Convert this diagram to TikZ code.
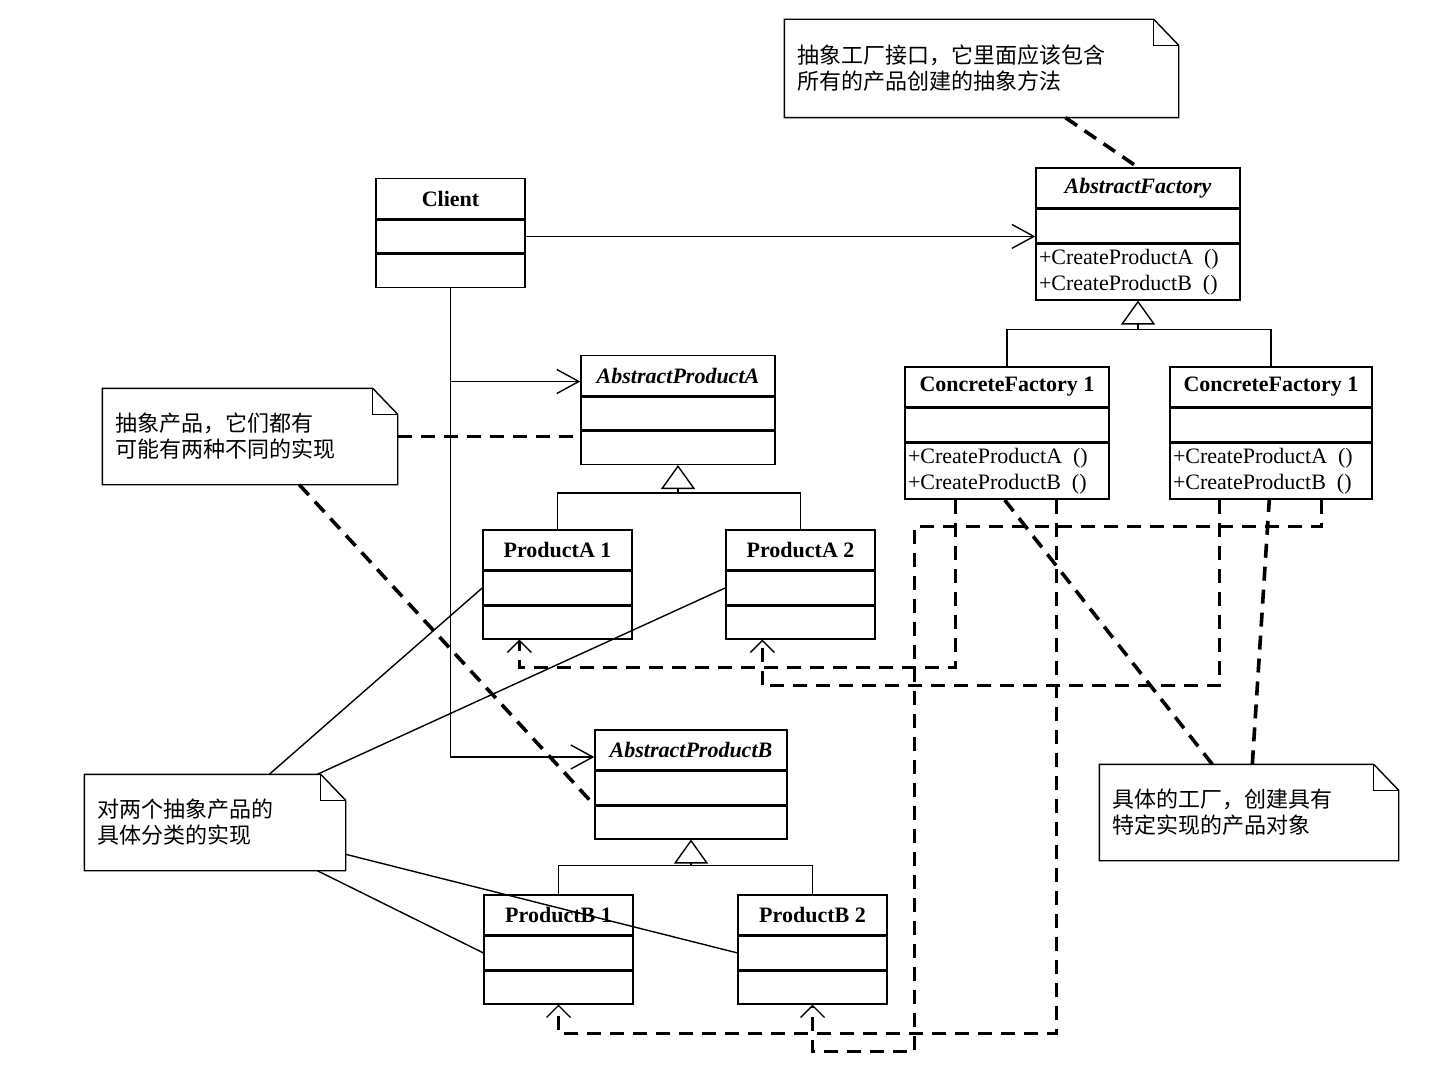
\documentclass[tikz,border=0pt]{standalone}
\usepackage{fontspec}
\setmainfont{Liberation Serif}
\newfontfamily\cjk{Noto Sans CJK SC}
\usetikzlibrary{arrows.meta,positioning}

\begin{document}
\begin{tikzpicture}[
x=0.5pt,y=-0.5pt,
line width=0.7pt,
font=\fontsize{11}{13}\selectfont,
head/.style={draw,minimum height=20pt,inner sep=0pt,font=\fontsize{11}{13}\selectfont\bfseries},
abshead/.style={head,font=\fontsize{11}{13}\selectfont\bfseries\itshape},
part/.style={draw,minimum height=16.5pt,inner sep=0pt},
ops/.style={draw,minimum height=28pt,inner xsep=1.5pt,inner ysep=0pt,align=left},
note/.style={minimum height=47.5pt,inner xsep=6pt,align=left,font=\fontsize{11}{13}\selectfont\cjk},
assoc/.style={-{Straight Barb[length=11pt,width=12pt]}},
inh/.style={-{Triangle[open,length=12pt,width=17pt]}},
dep/.style={line width=1.8pt,dash pattern=on 7pt off 4.5pt,-{Straight Barb[length=6pt,width=12pt,line width=0.7pt]}},
noteline/.style={line width=1.8pt,dash pattern=on 7pt off 4.5pt}
]
\useasboundingbox (0,0) rectangle (1429,1086);

% classes
\node[head,minimum width=74.5pt] (client) at (450.5,198.5) {Client};
\node[part,minimum width=74.5pt,below=0pt of client] (client-a) {};
\node[part,minimum width=74.5pt,below=0pt of client-a] (client-o) {};

\node[abshead,minimum width=102pt] (af) at (1138,188) {AbstractFactory};
\node[part,minimum width=102pt,below=0pt of af] (af-a) {};
\node[ops,text width=99pt,below=0pt of af-a] (af-o) {+CreateProductA\enspace()\\+CreateProductB\enspace()};

\node[head,minimum width=102pt] (cf1) at (1007,387) {ConcreteFactory 1};
\node[part,minimum width=102pt,below=0pt of cf1] (cf1-a) {};
\node[ops,text width=99pt,below=0pt of cf1-a] (cf1-o) {+CreateProductA\enspace()\\+CreateProductB\enspace()};

\node[head,minimum width=101pt] (cf2) at (1271,387) {ConcreteFactory 1};
\node[part,minimum width=101pt,below=0pt of cf2] (cf2-a) {};
\node[ops,text width=98pt,below=0pt of cf2-a] (cf2-o) {+CreateProductA\enspace()\\+CreateProductB\enspace()};

\node[abshead,minimum width=97pt] (apa) at (678,375.5) {AbstractProductA};
\node[part,minimum width=97pt,below=0pt of apa] (apa-a) {};
\node[part,minimum width=97pt,below=0pt of apa-a] (apa-o) {};

\node[head,minimum width=74.5pt] (pa1) at (557.5,550) {ProductA 1};
\node[part,minimum width=74.5pt,below=0pt of pa1] (pa1-a) {};
\node[part,minimum width=74.5pt,below=0pt of pa1-a] (pa1-o) {};

\node[head,minimum width=74.5pt] (pa2) at (800.5,550) {ProductA 2};
\node[part,minimum width=74.5pt,below=0pt of pa2] (pa2-a) {};
\node[part,minimum width=74.5pt,below=0pt of pa2-a] (pa2-o) {};

\node[abshead,minimum width=96pt] (apb) at (691,750) {AbstractProductB};
\node[part,minimum width=96pt,below=0pt of apb] (apb-a) {};
\node[part,minimum width=96pt,below=0pt of apb-a] (apb-o) {};

\node[head,minimum width=74.5pt] (pb1) at (558.5,915) {ProductB 1};
\node[part,minimum width=74.5pt,below=0pt of pb1] (pb1-a) {};
\node[part,minimum width=74.5pt,below=0pt of pb1-a] (pb1-o) {};

\node[head,minimum width=74.5pt] (pb2) at (812.5,915) {ProductB 2};
\node[part,minimum width=74.5pt,below=0pt of pb2] (pb2-a) {};
\node[part,minimum width=74.5pt,below=0pt of pb2-a] (pb2-o) {};

% notes
\node[note,minimum width=196.5pt,minimum height=48.5pt,text width=184.5pt] (nfac) at (981.5,68.5) {抽象工厂接口，它里面应该包含\\所有的产品创建的抽象方法};
\node[note,minimum width=147pt,text width=135pt] (nprod) at (250,436.5) {抽象产品，它们都有\\可能有两种不同的实现};
\node[note,minimum width=130pt,text width=118pt] (nimpl) at (215,822.5) {对两个抽象产品的\\具体分类的实现};
\node[note,minimum width=149pt,text width=137pt] (ncon) at (1249,812.5) {具体的工厂，创建具有\\特定实现的产品对象};
\foreach \n in {nfac,nprod,nimpl,ncon}{
  \draw (\n.south west) |- ([xshift=-12.5pt]\n.north east) -- ([yshift=-13pt]\n.north east) |- cycle;
  \draw ([xshift=-12.5pt]\n.north east) |- ([yshift=-13pt]\n.north east);
}

% generalisation
\coordinate[below=14.5pt of af-o.south] (afbar);
\coordinate[below=14pt of apa-o.south] (apabar);
\coordinate[below=13pt of apb-o.south] (apbbar);
\draw (cf1.north) |- (afbar) -| (cf2.north);
\draw[inh] (afbar) -- (af-o.south);
\draw (pa1.north) |- (apabar) -| (pa2.north);
\draw[inh] (apabar) -- (apa-o.south);
\draw (pb1.north) |- (apbbar) -| (pb2.north);
\draw[inh] (apbbar) -- (apb-o.south);

% associations
\draw[assoc] (client-a.east) -- (client-a.east -| af-a.west);
\draw[assoc] (client-o.south) |- ([yshift=-3pt]apa.west);
\draw[assoc] (client-o.south) |- ([yshift=-3.5pt]apb.west);

% create
\draw[dep] ([xshift=25.5pt]cf1-o.south west) -- ++(0,168) -| ([xshift=18.5pt]pa1-o.south west);
\draw[dep] ([xshift=76pt]cf1-o.south west) -- ++(0,534) -| (pb1-o.south);
\draw[dep] ([xshift=25pt]cf2-o.south west) -- ++(0,186) -| ([xshift=18.5pt]pa2-o.south west);
\draw[dep] ([xshift=76pt]cf2-o.south west) -- ++(0,27) -| ++(-407,525) -| (pb2-o.south);

% note links
\draw[noteline] ([xshift=42pt]nfac.south) -- (af.north);
\draw[noteline] (nprod.east) -- (nprod.east -| apa-o.west);
\draw[noteline] ([xshift=98.5pt]nprod.south west) -- (apb-a.south west);
\draw[noteline] ([xshift=56.5pt]ncon.north west) -- ([xshift=50pt]cf1-o.south west);
\draw[noteline] ([xshift=76.5pt]ncon.north west) -- ([xshift=50pt]cf2-o.south west);
\draw ([xshift=92.5pt]nimpl.north west) -- (pa1-a.west);
\draw ([xshift=116.5pt]nimpl.north west) -- (pa2-a.west);
\draw ([yshift=-40pt]nimpl.north east) -- (pb2-a.west);
\draw ([xshift=116.5pt]nimpl.south west) -- (pb1-a.west);
\end{tikzpicture}
\end{document}
